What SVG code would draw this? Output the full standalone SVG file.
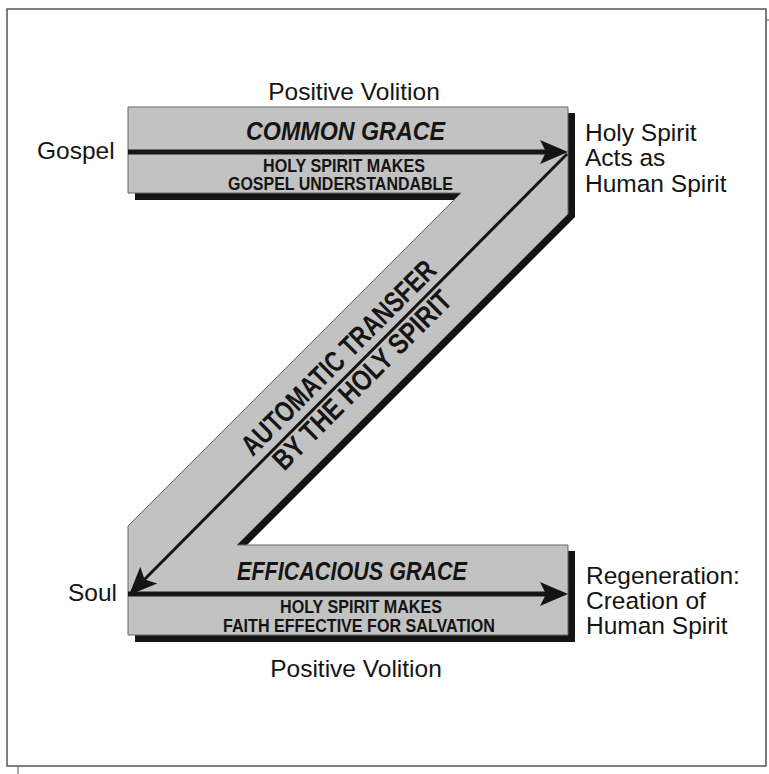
<svg xmlns="http://www.w3.org/2000/svg" width="769" height="774" viewBox="0 0 769 774">
<defs>
<style>
.frame{fill:#fff;stroke:#555;stroke-width:1.5}
.tick{stroke:#555;stroke-width:1}
.z{fill:#c2c2c2;stroke:#666;stroke-width:1}
.shadow{fill:#141414}
.lbl{font-family:"Liberation Sans",Arial,sans-serif;font-size:24.5px;fill:#141414}
.title{font-family:"Liberation Sans",Arial,sans-serif;font-size:26.5px;font-weight:bold;font-style:italic;fill:#141414}
.sub{font-family:"Liberation Sans",Arial,sans-serif;font-size:18px;font-weight:bold;fill:#141414}
.diag{font-family:"Liberation Sans",Arial,sans-serif;font-size:29px;font-weight:bold;fill:#141414}
.arrow{stroke:#141414;fill:none}
</style>
<marker id="head" markerUnits="userSpaceOnUse" viewBox="-18 -13 32 26" markerWidth="32" markerHeight="26" refX="0" refY="0" orient="auto">
<path d="M12,0 L-16,-12 L-10,0 L-16,12 Z" fill="#141414"/>
</marker>
</defs>
<rect class="frame" x="7" y="9" width="759" height="757"/>
<line class="tick" x1="766" y1="20" x2="769" y2="20"/>
<line class="tick" x1="18" y1="766" x2="18" y2="774"/>
<g id="z-shape">
<polygon class="shadow" points="135,193 461,193 454,200 135,200"/>
<polygon class="shadow" points="568,113 575,113 575,217 247,545 237,545 568,214"/>
<polygon class="shadow" points="568,551 575,551 575,642 135,642 135,635 568,635"/>
<polygon class="z" points="128,107 568,107 568,214 237,545 568,545 568,635 128,635 128,526 461,193 128,193"/>
</g>
<g id="connectors">
<line class="arrow" stroke-width="5" x1="128" y1="152" x2="556" y2="152" marker-end="url(#head)"/>
<line class="arrow" stroke-width="3" x1="567" y1="154" x2="137.5" y2="586.5" marker-end="url(#head)"/>
<line class="arrow" stroke-width="5" x1="128" y1="594" x2="556" y2="594" marker-end="url(#head)"/>
</g>
<g id="common-grace">
<text class="title" x="345.5" y="139.5" text-anchor="middle" textLength="199" lengthAdjust="spacingAndGlyphs">COMMON GRACE</text>
<text class="sub" x="344" y="171.7" text-anchor="middle" textLength="162" lengthAdjust="spacingAndGlyphs">HOLY SPIRIT MAKES</text>
<text class="sub" x="340.5" y="190" text-anchor="middle" textLength="225" lengthAdjust="spacingAndGlyphs">GOSPEL UNDERSTANDABLE</text>
</g>
<g id="automatic-transfer">
<text class="diag" transform="translate(345.5,364.5) rotate(-45)" x="0" y="0" text-anchor="middle" textLength="262" lengthAdjust="spacingAndGlyphs">AUTOMATIC TRANSFER</text>
<text class="diag" transform="translate(369,387) rotate(-45)" x="0" y="0" text-anchor="middle" textLength="240" lengthAdjust="spacingAndGlyphs">BY THE HOLY SPIRIT</text>
</g>
<g id="efficacious-grace">
<text class="title" x="352" y="580" text-anchor="middle" textLength="230" lengthAdjust="spacingAndGlyphs">EFFICACIOUS GRACE</text>
<text class="sub" x="361" y="613.3" text-anchor="middle" textLength="162" lengthAdjust="spacingAndGlyphs">HOLY SPIRIT MAKES</text>
<text class="sub" x="359" y="631.5" text-anchor="middle" textLength="272" lengthAdjust="spacingAndGlyphs">FAITH EFFECTIVE FOR SALVATION</text>
</g>
<g id="positive-volition-top">
<text class="lbl" x="354" y="100" text-anchor="middle">Positive Volition</text>
</g>
<g id="positive-volition-bottom">
<text class="lbl" x="356" y="677" text-anchor="middle">Positive Volition</text>
</g>
<g id="gospel">
<text class="lbl" x="37" y="159">Gospel</text>
</g>
<g id="soul">
<text class="lbl" x="68" y="601">Soul</text>
</g>
<g id="holy-spirit-acts">
<text class="lbl" x="585" y="141">Holy Spirit</text>
<text class="lbl" x="585" y="166">Acts as</text>
<text class="lbl" x="585" y="192">Human Spirit</text>
</g>
<g id="regeneration">
<text class="lbl" x="586" y="584">Regeneration:</text>
<text class="lbl" x="586" y="609">Creation of</text>
<text class="lbl" x="586" y="634">Human Spirit</text>
</g>
</svg>
